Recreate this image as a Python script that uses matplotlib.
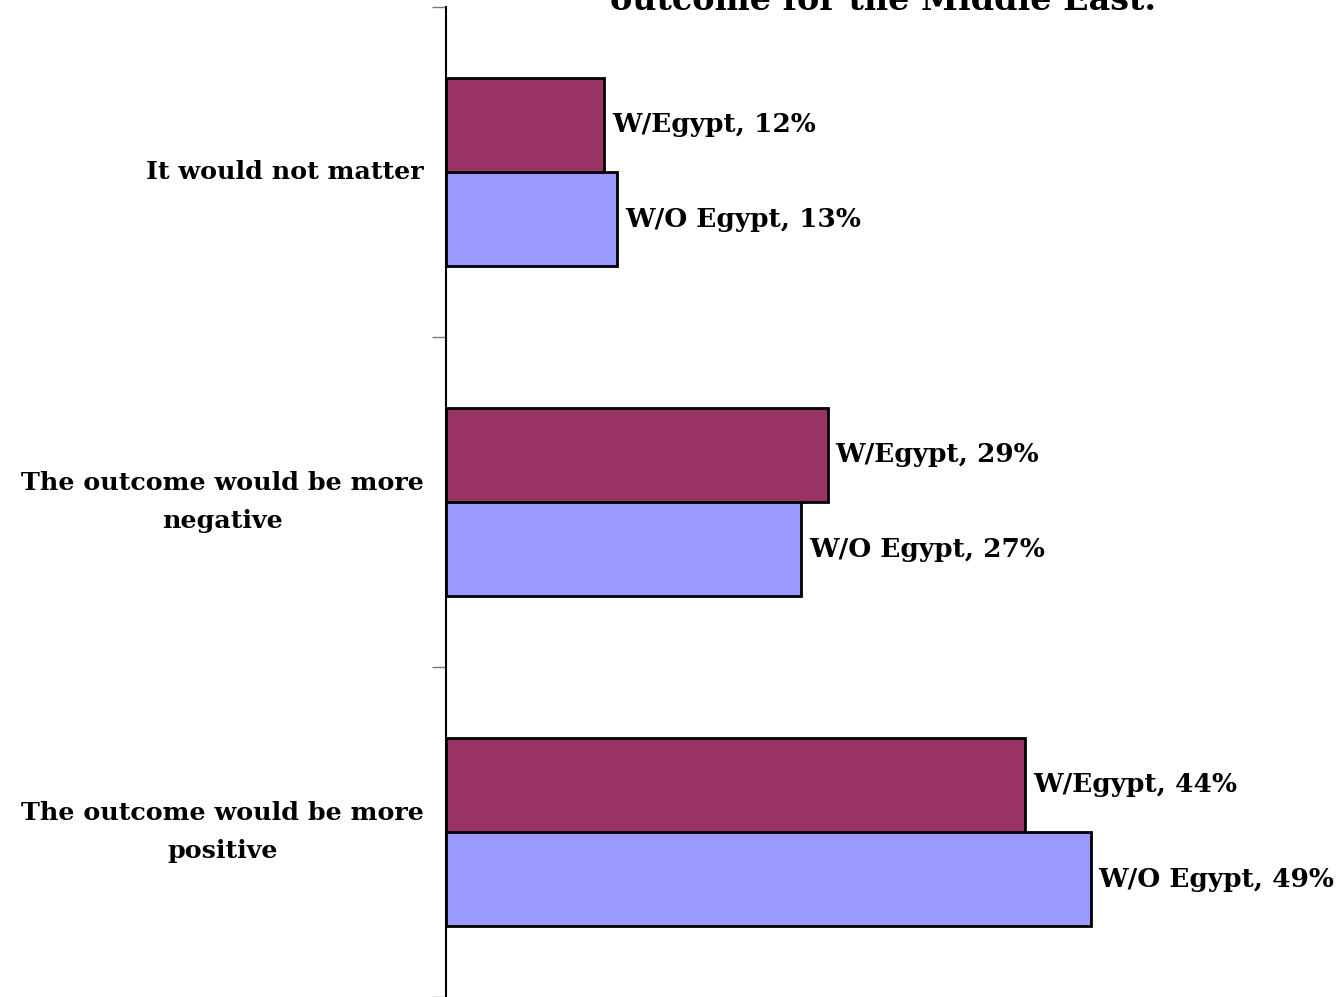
import matplotlib.pyplot as plt
import numpy as np

categories = ["The outcome would be more\npositive",
              "The outcome would be more\nnegative",
              "It would not matter"]
with_egypt = [44, 29, 12]
without_egypt = [49, 27, 13]
series_names = ["W/Egypt", "W/O Egypt"]
colors = ["#993366", "#9999FF"]

plt.rcParams['font.family'] = ['DejaVu Serif']

fig = plt.figure(figsize=(13.42, 9.97), dpi=100)
ax = fig.add_axes([446 / 1342, 0, 1 - 446 / 1342, 990 / 997])

y = np.arange(len(categories))
h = 0.285
ax.barh(y + h / 2, with_egypt, height=h, color=colors[0], edgecolor="black", linewidth=2)
ax.barh(y - h / 2, without_egypt, height=h, color=colors[1], edgecolor="black", linewidth=2)

for yi, v in zip(y, with_egypt):
    ax.text(v + 0.6, yi + h / 2, f"{series_names[0]}, {v}%", va="center", ha="left",
            fontsize=19, fontweight="bold")
for yi, v in zip(y, without_egypt):
    ax.text(v + 0.6, yi - h / 2, f"{series_names[1]}, {v}%", va="center", ha="left",
            fontsize=19, fontweight="bold")

ax.set_xlim(0, 68.1)
ax.set_ylim(-0.5, 2.5)
ax.set_xticks([])
ax.set_yticks([-0.5, 0.5, 1.5, 2.5])
ax.set_yticklabels([])
ax.set_yticks(y, minor=True)
ax.set_yticklabels(categories, minor=True, fontsize=18.3, fontweight="bold",
                   multialignment="center", linespacing=1.75)
for lbl in ax.get_yticklabels(minor=True):
    lbl.set_va("center")
ax.tick_params(axis="y", which="minor", length=0, pad=16)
ax.tick_params(axis="y", which="major", length=10, width=1, color="#777777")
for s in ["top", "right", "bottom"]:
    ax.spines[s].set_visible(False)
ax.spines["left"].set_linewidth(1.5)

# title is cut off at the top of the image; only its last line shows
fig.text(883 / 1342, 1 - 10 / 997, "outcome for the Middle East.", ha="center", va="baseline",
         fontsize=24, fontweight="bold")

fig.savefig("out.png", dpi=100)
